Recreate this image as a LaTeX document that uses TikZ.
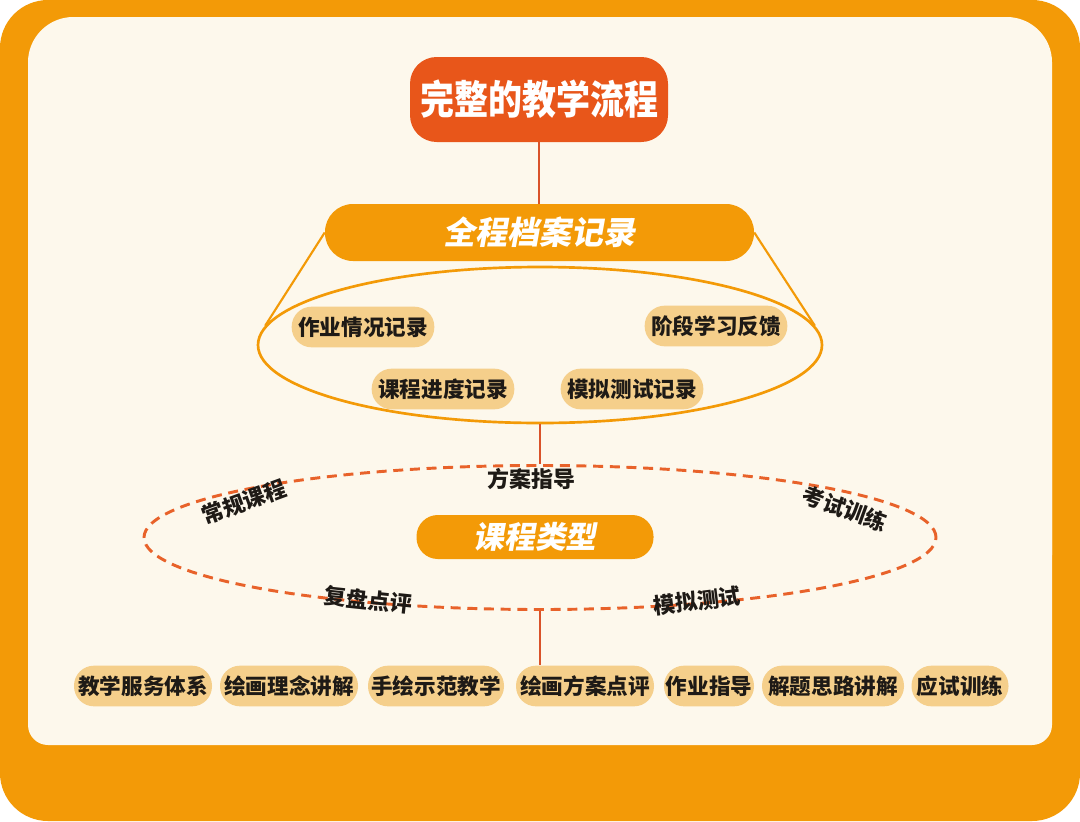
\documentclass[tikz,border=0pt]{standalone}
\usepackage{fontspec}
\setmainfont{Noto Sans CJK SC}
\newfontfamily\titlefont[FakeStretch=0.85]{Noto Sans CJK SC}
\newfontfamily\slantfont[FakeSlant=0.18]{Noto Sans CJK SC}
\usetikzlibrary{shapes.geometric}
\definecolor{orangeA}{HTML}{F39A07}
\definecolor{redA}{HTML}{E8561A}
\definecolor{cream}{HTML}{FDF8EC}
\definecolor{pillc}{HTML}{F5CF8B}
\definecolor{dashc}{HTML}{E8622A}
\definecolor{linec}{HTML}{D9532A}
\definecolor{txt}{HTML}{1E1A16}
\tikzset{
  pill/.style={fill=pillc, rounded corners=15pt, minimum height=30.5pt, inner sep=0pt,
    text=txt, font=\fontsize{16.2}{17}\selectfont\bfseries},
  lbl/.style={text=txt, font=\fontsize{16.5}{17}\selectfont\bfseries, inner sep=0pt},
  conn/.style={draw=linec, line width=0.9pt},
}
\begin{document}
\begin{tikzpicture}[x=0.75pt,y=-0.75pt]
\useasboundingbox (0,0) rectangle (1080,821);
\fill[white] (0,0) rectangle (1080,821);
\fill[orangeA, rounded corners=36pt] (0,0) rectangle (1080,821);
\fill[cream, rounded corners=34pt] (28,17) rectangle (1052,600);
\fill[cream, rounded corners=15pt] (28,300) rectangle (1052,745);

% title
\node[fill=redA, rounded corners=20pt, minimum width=193.5pt, minimum height=63.75pt, inner sep=0pt,
  text=white, font=\titlefont\fontsize{30}{31}\selectfont\bfseries] (title) at (539,99.5) {完整的教学流程};

% record bar
\node[fill=orangeA, rounded corners=21pt, minimum width=321.75pt, minimum height=42.75pt, inner sep=0pt,
  text=white, font=\slantfont\fontsize{24}{25}\selectfont\bfseries] (bar) at (539.5,232.5) {全程档案记录};

% solid ellipse
\node[ellipse, draw=orangeA, line width=2pt, minimum width=423pt, minimum height=117pt, inner sep=0pt] (rec) at (540,345) {};

\node[pill, minimum width=107pt] (r1) at (363,327) {作业情况记录};
\node[pill, minimum width=107pt] (r2) at (716,326) {阶段学习反馈};
\node[pill, minimum width=107pt] (r3) at (443,389) {课程进度记录};
\node[pill, minimum width=107pt] (r4) at (632,389) {模拟测试记录};

\draw[orangeA, line width=1.6pt] (bar.west) -- (rec.176);
\draw[orangeA, line width=1.6pt] (bar.east) -- (rec.4);

% dashed ellipse
\node[ellipse, draw=dashc, line width=2.2pt, dash pattern=on 7.5pt off 5pt, minimum width=594pt, minimum height=108pt, inner sep=0pt] (types) at (540,537.5) {};

\node[fill=orangeA, rounded corners=16pt, minimum width=177.75pt, minimum height=33pt, inner sep=0pt,
  text=white, font=\slantfont\fontsize{23}{24}\selectfont\bfseries] (kc) at (535,537) {课程类型};

\node[lbl] (l1) at (531,479) {方案指导};
\node[lbl, rotate=20] (l2) at (244,502) {常规课程};
\node[lbl, rotate=-20] (l3) at (845,509) {考试训练};
\node[lbl, rotate=-6] (l4) at (368,600) {复盘点评};
\node[lbl, rotate=7] (l5) at (697,601) {模拟测试};

% bottom pills
\node[pill, minimum width=103.5pt] (b1) at (143,686) {教学服务体系};
\node[pill, minimum width=103.5pt] (b2) at (289,686) {绘画理念讲解};
\node[pill, minimum width=102pt] (b3) at (436,686) {手绘示范教学};
\node[pill, minimum width=103.5pt] (b4) at (585,686) {绘画方案点评};
\node[pill, minimum width=67.5pt] (b5) at (709,686) {作业指导};
\node[pill, minimum width=106.5pt] (b6) at (833,686) {解题思路讲解};
\node[pill, minimum width=72.75pt] (b7) at (960,686) {应试训练};

% connectors
\draw[conn] (title.south) -- (title.south |- bar.north);
\draw[conn] (rec.south) -- (rec.south |- types.north);
\draw[conn] (types.south) -- (types.south |- b4.north);
\end{tikzpicture}
\end{document}
